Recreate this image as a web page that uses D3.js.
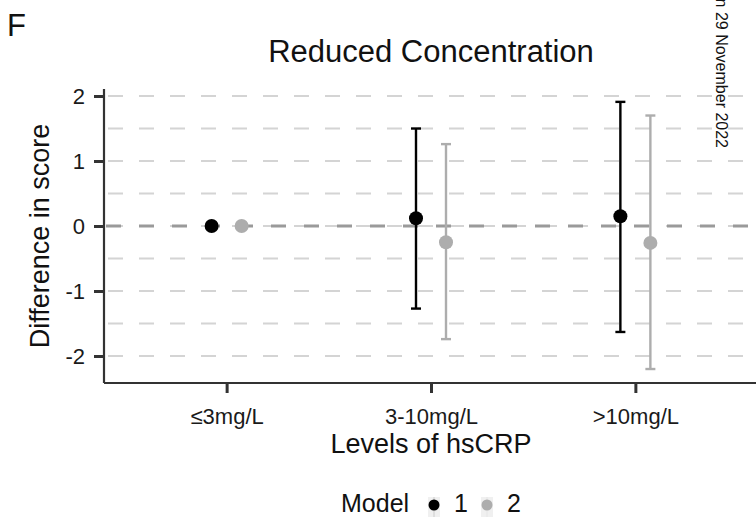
<!DOCTYPE html>
<html>
<head>
<meta charset="utf-8">
<script src="https://cdn.jsdelivr.net/npm/d3@7/dist/d3.min.js"></script>
<style>
  html, body { margin: 0; padding: 0; background: #fff; }
  svg { display: block; }
  text { font-family: "Liberation Sans", Arial, Helvetica, sans-serif; }
</style>
</head>
<body>
<svg id="chart" width="756" height="517"></svg>
<script>
// ---- data ----
const categories = ["\u22643mg/L", "3-10mg/L", ">10mg/L"];
const models = ["1", "2"];
const model1Est = [0, 0.12, 0.15];
const model1Low = [0, -1.27, -1.63];
const model1High = [0, 1.50, 1.91];
const model2Est = [0, -0.25, -0.26];
const model2Low = [0, -1.74, -2.20];
const model2High = [0, 1.26, 1.70];
const yTicks = [-2, -1, 0, 1, 2];
const yMinor = [-1.5, -0.5, 0.5, 1.5];
const titleText = "Reduced Concentration";
const panelLabel = "F";
const xTitle = "Levels of hsCRP";
const yTitle = "Difference in score";
const legendTitle = "Model";
const watermark = "n 29 November 2022";

const svg = d3.select("#chart");
const W = 756, H = 517;
const pLeft = 104, pTop = 89, pBottom = 383, pRight = 758;

const x = d3.scaleLinear().domain([0.4, categories.length + 0.6]).range([pLeft, pRight]);
const y = d3.scaleLinear().domain([-2.415, 2.108]).range([pBottom, pTop]);
const dodge = 15;
const colors = { "1": "#000000", "2": "#adadad" };

const series = [
  { model: "1", est: model1Est, lo: model1Low, hi: model1High, off: -dodge },
  { model: "2", est: model2Est, lo: model2Low, hi: model2High, off: dodge }
];

// grid lines (major + minor, dashed)
const grid = svg.append("g");
grid.selectAll("line").data(yTicks.concat(yMinor)).join("line")
  .attr("x1", pLeft + 4).attr("x2", W + 20)
  .attr("y1", d => y(d)).attr("y2", d => y(d))
  .attr("stroke", "#d4d4d4").attr("stroke-width", 1.8)
  .attr("stroke-dasharray", "15,16");

// zero reference line
svg.append("line")
  .attr("x1", pLeft + 2).attr("x2", W + 20)
  .attr("y1", y(0)).attr("y2", y(0))
  .attr("stroke", "#9a9a9a").attr("stroke-width", 3)
  .attr("stroke-dasharray", "15,18");

// error bars + points
series.forEach(s => {
  const g = svg.append("g");
  const data = categories.map((c, i) => ({ i: i + 1, est: s.est[i], lo: s.lo[i], hi: s.hi[i] }));
  g.selectAll("line.v").data(data).join("line").attr("class", "v")
    .attr("x1", d => x(d.i) + s.off).attr("x2", d => x(d.i) + s.off)
    .attr("y1", d => y(d.lo)).attr("y2", d => y(d.hi))
    .attr("stroke", colors[s.model]).attr("stroke-width", 2.4);
  ["lo", "hi"].forEach(k => {
    g.selectAll("line.c" + k).data(data).join("line").attr("class", "c" + k)
      .attr("x1", d => x(d.i) + s.off - 5).attr("x2", d => x(d.i) + s.off + 5)
      .attr("y1", d => y(d[k])).attr("y2", d => y(d[k]))
      .attr("stroke", colors[s.model]).attr("stroke-width", 2.4);
  });
  g.selectAll("circle").data(data).join("circle")
    .attr("cx", d => x(d.i) + s.off).attr("cy", d => y(d.est))
    .attr("r", 7).attr("fill", colors[s.model]);
});

// axes
const yAxis = d3.axisLeft(y).tickValues(yTicks).tickSize(10).tickPadding(9).tickFormat(d => String(d));
const yg = svg.append("g").attr("transform", `translate(${pLeft},0)`).call(yAxis);
yg.select(".domain").attr("d", `M0,${pTop}V${pBottom}`).attr("stroke", "#333").attr("stroke-width", 2.2);
yg.selectAll(".tick line").attr("stroke", "#333").attr("stroke-width", 3);
yg.selectAll(".tick text").attr("font-size", 22).attr("fill", "#1a1a1a")
  .attr("font-family", "Liberation Sans, Arial, sans-serif");

const xAxis = d3.axisBottom(x).tickValues(categories.map((c, i) => i + 1))
  .tickFormat((d) => categories[d - 1]).tickSize(10).tickPadding(15);
const xg = svg.append("g").attr("transform", `translate(0,${pBottom})`).call(xAxis);
xg.select(".domain").attr("d", `M${pLeft},0H${W + 10}`).attr("stroke", "#333").attr("stroke-width", 2.2);
xg.selectAll(".tick line").attr("stroke", "#333").attr("stroke-width", 3);
xg.selectAll(".tick text").attr("font-size", 22).attr("fill", "#1a1a1a")
  .attr("font-family", "Liberation Sans, Arial, sans-serif");

// titles
svg.append("text").attr("x", 431).attr("y", 62).attr("text-anchor", "middle")
  .attr("font-size", 31).attr("fill", "#111").text(titleText);
svg.append("text").attr("x", 7).attr("y", 36)
  .attr("font-size", 31).attr("fill", "#111").text(panelLabel);
svg.append("text").attr("x", 431).attr("y", 453).attr("text-anchor", "middle")
  .attr("font-size", 27).attr("fill", "#111").text(xTitle);
svg.append("text").attr("transform", `translate(49,236) rotate(-90)`).attr("text-anchor", "middle")
  .attr("font-size", 27).attr("fill", "#111").text(yTitle);

// watermark
svg.append("text").attr("transform", `translate(716,148) rotate(90)`).attr("text-anchor", "end")
  .attr("font-size", 16).attr("fill", "#111").text(watermark);

// legend
const lg = svg.append("g");
lg.append("text").attr("x", 341).attr("y", 512).attr("font-size", 25).attr("fill", "#111").text(legendTitle);
const keyX = [434, 487];
models.forEach((m, i) => {
  lg.append("rect").attr("x", keyX[i] - 6).attr("y", 497).attr("width", 12).attr("height", 22).attr("fill", "#f0f0f0");
  lg.append("line").attr("x1", keyX[i]).attr("x2", keyX[i]).attr("y1", 497).attr("y2", 519)
    .attr("stroke", colors[m]).attr("stroke-width", 1).attr("stroke-opacity", 0.15);
  lg.append("circle").attr("cx", keyX[i]).attr("cy", 505).attr("r", 5.5).attr("fill", colors[m]);
  lg.append("text").attr("x", keyX[i] + 20).attr("y", 512).attr("font-size", 25).attr("fill", "#111").text(m);
});
</script>
</body>
</html>
